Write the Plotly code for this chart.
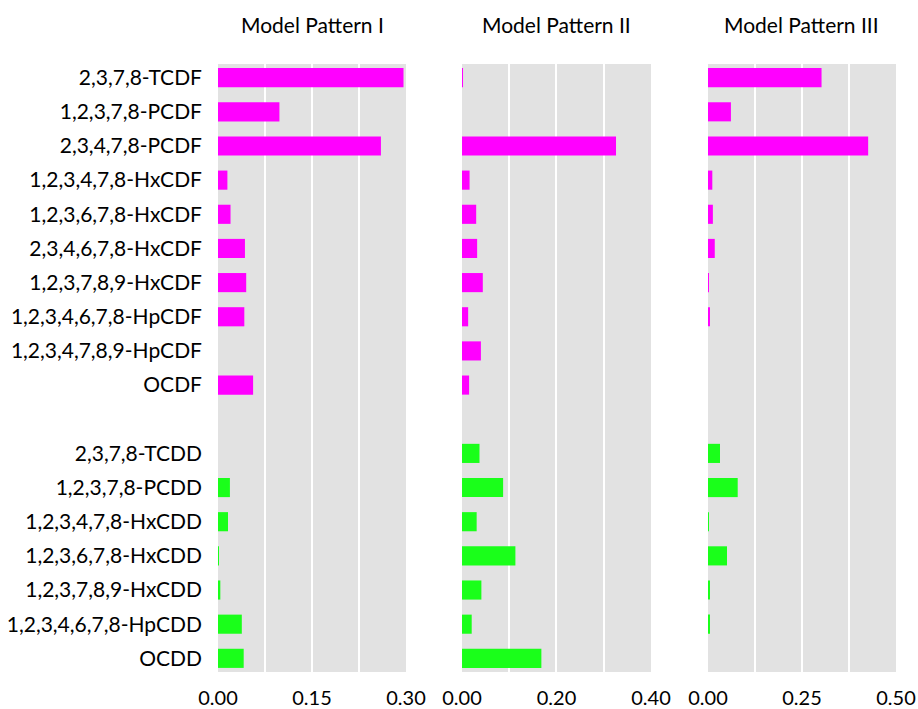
import plotly.graph_objects as go
from plotly.subplots import make_subplots

categories = [
    "2,3,7,8-TCDF", "1,2,3,7,8-PCDF", "2,3,4,7,8-PCDF", "1,2,3,4,7,8-HxCDF",
    "1,2,3,6,7,8-HxCDF", "2,3,4,6,7,8-HxCDF", "1,2,3,7,8,9-HxCDF",
    "1,2,3,4,6,7,8-HpCDF", "1,2,3,4,7,8,9-HpCDF", "OCDF",
    " ",
    "2,3,7,8-TCDD", "1,2,3,7,8-PCDD", "1,2,3,4,7,8-HxCDD", "1,2,3,6,7,8-HxCDD",
    "1,2,3,7,8,9-HxCDD", "1,2,3,4,6,7,8-HpCDD", "OCDD",
]
cdf_count = 10

pattern_titles = ["Model Pattern I", "Model Pattern II", "Model Pattern III"]

pattern1 = [0.296, 0.098, 0.260, 0.015, 0.020, 0.043, 0.045, 0.042, 0.0, 0.056,
            None,
            0.0, 0.019, 0.016, 0.0016, 0.0037, 0.038, 0.041]
pattern2 = [0.002, 0.0, 0.326, 0.016, 0.030, 0.032, 0.044, 0.013, 0.040, 0.015,
            None,
            0.037, 0.087, 0.031, 0.113, 0.041, 0.0205, 0.168]
pattern3 = [0.302, 0.061, 0.426, 0.0115, 0.013, 0.018, 0.002, 0.0035, 0.0, 0.0,
            None,
            0.032, 0.079, 0.002, 0.0505, 0.0027, 0.0044, 0.0]

x_ranges = [[0, 0.30], [0, 0.40], [0, 0.50]]
x_major = [0.15, 0.20, 0.25]

magenta = "#FF00FF"
green = "#1AFF1A"

W, H = 918, 709
fig = make_subplots(rows=1, cols=3, shared_yaxes=True, horizontal_spacing=0.0)

patterns = [pattern1, pattern2, pattern3]
for i, vals in enumerate(patterns):
    colors = [magenta if k < cdf_count else green for k in range(len(categories))]
    xs = [v if v is not None else 0 for v in vals]
    fig.add_trace(go.Bar(
        x=xs, y=categories, orientation="h",
        marker=dict(color=colors, line=dict(width=0)),
        width=0.56, showlegend=False, hoverinfo="x+y",
    ), row=1, col=i + 1)

domains = [[0, 0.2773], [0.3599, 0.6386], [0.7227, 1.0]]
font_family = "Lato, Open Sans, sans-serif"
fsize = 21
for i in range(3):
    key = "xaxis" if i == 0 else f"xaxis{i+1}"
    fig.layout[key].update(
        domain=domains[i], range=x_ranges[i], dtick=x_major[i], tick0=0,
        tickformat=".2f", showgrid=True, gridcolor="white", gridwidth=1.5,
        zeroline=False, showline=False, ticks="", ticklabelstandoff=12,
        minor=dict(dtick=x_major[i] / 2, showgrid=True, gridcolor="white", gridwidth=1.5),
        tickfont=dict(size=fsize - 1, color="black", family=font_family),
        fixedrange=True, automargin=False,
    )
    fig.add_annotation(
        text=pattern_titles[i], x=(domains[i][0] + domains[i][1]) / 2, y=1,
        xref="paper", yref="paper", xanchor="center", yanchor="middle", yshift=40,
        showarrow=False,
        font=dict(size=fsize, color="black", family=font_family),
    )

fig.update_yaxes(
    categoryorder="array", categoryarray=categories, range=[17.4, -0.4],
    showgrid=False, zeroline=False, showline=False, ticks="", ticklabelstandoff=15,
    tickfont=dict(size=fsize, color="black", family=font_family),
    automargin=False, fixedrange=True,
)

fig.update_layout(
    width=W, height=H,
    margin=dict(l=218, r=22, t=64, b=37),
    plot_bgcolor="#E2E2E2", paper_bgcolor="white",
    bargap=0.44,
    font=dict(family=font_family, color="black"),
)

fig.write_html(
    "out.html",
    config={"displayModeBar": False},
    post_script="document.body.style.margin='0';document.body.style.overflow='hidden';",
)
